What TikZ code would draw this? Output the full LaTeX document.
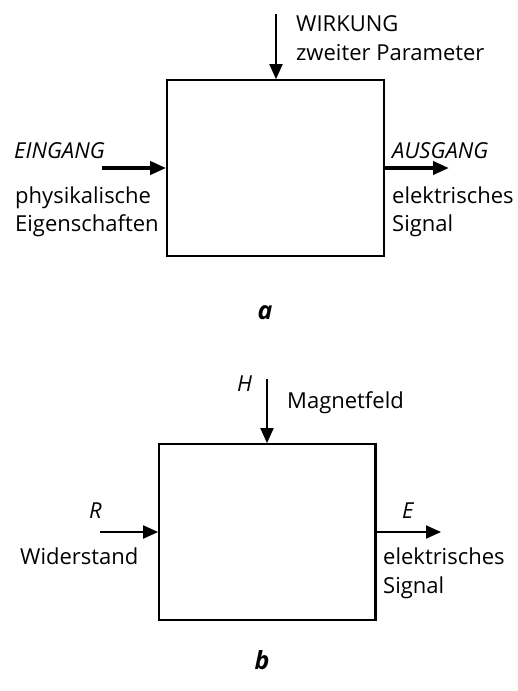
\documentclass[tikz,border=0pt]{standalone}
\usepackage{fontspec}
\setmainfont{Open Sans}
\usetikzlibrary{arrows.meta}
\tikzset{
  blockbox/.style={draw,line width=1.7pt},
  thinarrow/.style={line width=1.9pt,-{Triangle[length=15pt,width=13pt]}},
  thickarrow/.style={line width=3.8pt,-{Triangle[length=16pt,width=13pt]}},
  lbl/.style={anchor=base west,inner sep=0pt,font=\fontsize{22}{26}\selectfont},
  caption/.style={inner sep=0pt,font=\fontsize{25}{29}\selectfont\bfseries\itshape}
}
\begin{document}
\begin{tikzpicture}[x=1pt,y=-1pt]
\useasboundingbox (0,0) rectangle (518,691);
% ---- a ----
\node[blockbox,minimum width=217pt,minimum height=176pt,inner sep=0pt] (boxa) at (275.5,168) {};
\coordinate (atop) at (276,14);
\coordinate (ain) at (102,168);
\coordinate (aout) at (449,168);
\draw[thinarrow] (atop) -- (boxa.north -| atop);
\draw[thickarrow] (ain) -- (boxa.west |- ain);
\draw[thickarrow] (boxa.east |- aout) -- (aout);
\node[lbl] (wirk) at (296,31) {WIRKUNG};
\node[lbl] (zweit) at (296,60) {zweiter Parameter};
\node[lbl] (ein) at (14,158) {\itshape EINGANG};
\node[lbl] (phys) at (15,203) {physikalische};
\node[lbl] (eigen) at (15,231) {Eigenschaften};
\node[lbl] (aus) at (392,158) {\itshape AUSGANG};
\node[lbl] (elek) at (392,203) {elektrisches};
\node[lbl] (sig) at (392,231) {Signal};
\node[caption] (capa) at (265,313) {a};
% ---- b ----
\node[blockbox,minimum width=216pt,minimum height=176pt,inner sep=0pt] (boxb) at (267,532) {};
\draw[line width=3pt] (boxb.north east) -- (boxb.south east);
\coordinate (btop) at (267,379);
\coordinate (bin) at (100,532);
\coordinate (bout) at (441,532);
\draw[thinarrow] (btop) -- (boxb.north -| btop);
\draw[thinarrow] (bin) -- (boxb.west |- bin);
\draw[thinarrow] (boxb.east |- bout) -- (bout);
\node[lbl] (H) at (237,391) {\itshape H};
\node[lbl] (magn) at (287,408) {Magnetfeld};
\node[lbl] (R) at (89,518) {\itshape R};
\node[lbl] (wid) at (20,564) {Widerstand};
\node[lbl] (E) at (402,518) {\itshape E};
\node[lbl] (elekb) at (383,564) {elektrisches};
\node[lbl] (sigb) at (383,593) {Signal};
\node[caption] (capb) at (262,660) {b};
\end{tikzpicture}
\end{document}
